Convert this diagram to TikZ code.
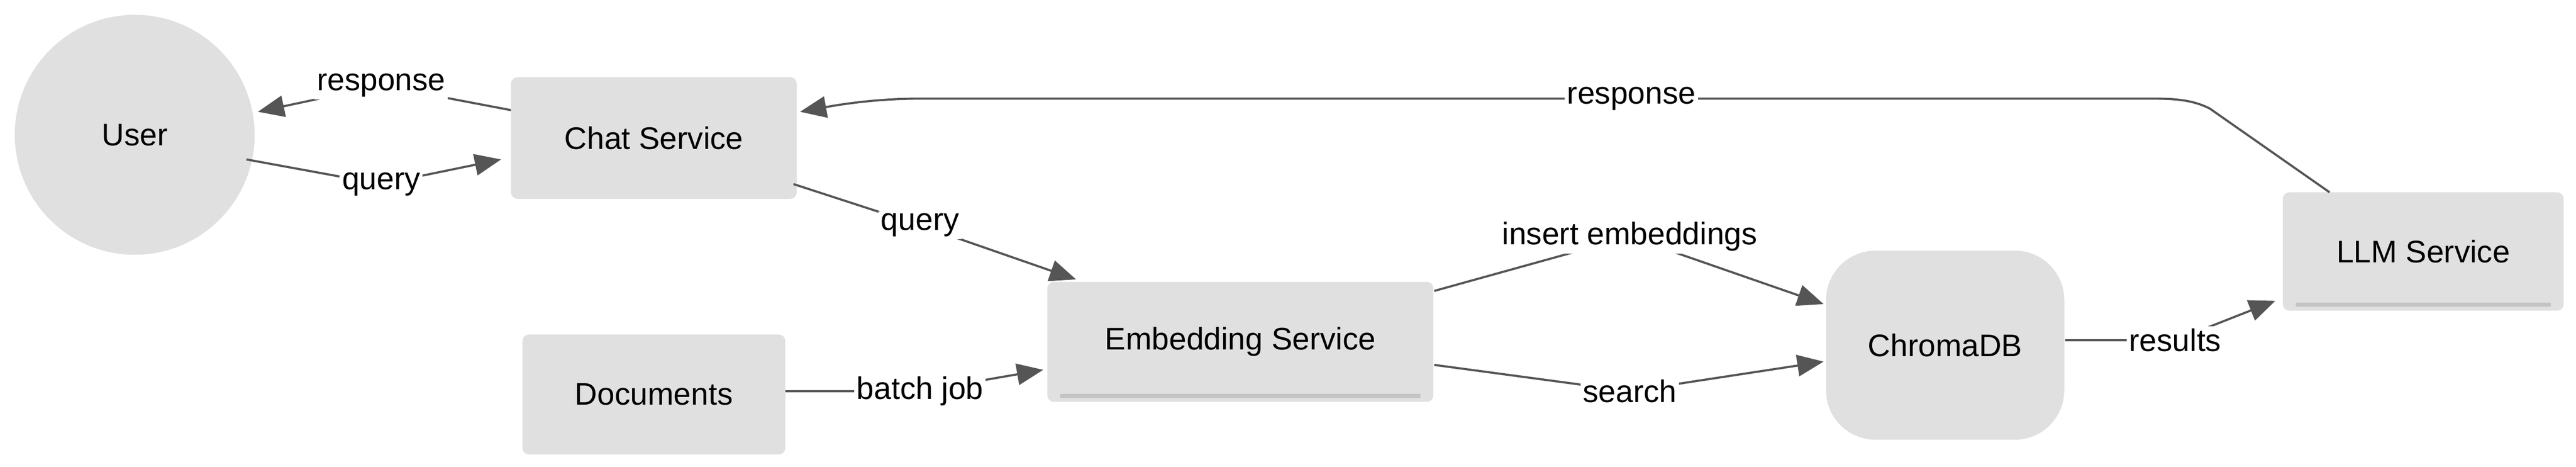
\documentclass[tikz,border=0pt]{standalone}
\usepackage{fontspec}
\setmainfont{Liberation Sans}
\usetikzlibrary{arrows.meta,shapes.geometric}
\definecolor{nodefill}{HTML}{E0E0E0}
\definecolor{edgec}{HTML}{555555}
\definecolor{barc}{HTML}{C4C4C4}
\begin{document}
\begin{tikzpicture}[x=1pt,y=-1pt,
  box/.style={fill=nodefill,draw=none,rounded corners=4pt,font=\fontsize{19}{21}\selectfont,inner sep=0pt},
  line/.style={draw=edgec,line width=1.3pt},
  edge/.style={line,-{Triangle[length=16pt,width=13pt]}},
  lab/.style={fill=white,inner sep=1.5pt,font=\fontsize{19}{21}\selectfont,text=black},
  bar/.style={draw=barc,line width=2.5pt}]
\useasboundingbox (0,0) rectangle (1568,284);
\node[box,circle,minimum size=146pt] (user) at (82,82) {User};
\node[box,minimum width=174pt,minimum height=74pt] (chat) at (398,84) {Chat Service};
\node[box,minimum width=160pt,minimum height=73pt] (docs) at (398,240) {Documents};
\node[box,minimum width=235pt,minimum height=73pt] (emb) at (755,208) {Embedding Service};
\node[box,minimum width=145pt,minimum height=115pt,rounded corners=30pt] (db) at (1184,210) {ChromaDB};
\node[box,minimum width=171pt,minimum height=72pt] (llm) at (1475,153) {LLM Service};
\draw[bar] ([xshift=8pt,yshift=4pt]emb.south west) -- ([xshift=-8pt,yshift=4pt]emb.south east);
\draw[bar] ([xshift=8pt,yshift=4pt]llm.south west) -- ([xshift=-8pt,yshift=4pt]llm.south east);
\coordinate (u1) at (157,68);
\coordinate (u2) at (150,97);
\coordinate (c1) at (311,67);
\coordinate (c2) at (305,97);
\coordinate (c3) at (483,112);
\coordinate (c4) at (487,68);
\coordinate (e1) at (655,170);
\coordinate (e2) at (635,225);
\coordinate (e3) at (873,177);
\coordinate (e4) at (873,222);
\coordinate (d1) at (478,238);
\coordinate (b1) at (1110,185);
\coordinate (b2) at (1110,220);
\coordinate (b3) at (1257,207);
\coordinate (l1) at (1385,183);
\coordinate (l2) at (1418,117);
\node[lab] (lresp) at (232,52) {response};
\node[lab] (lq1) at (232,112) {query};
\node[lab] (lq2) at (560,137) {query};
\node[lab] (lbj) at (560,238) {batch job};
\node[lab] (lie) at (992,144) {insert embeddings};
\node[lab] (lse) at (992,238) {search};
\node[lab] (lrs) at (1324,207) {results};
\draw[edge] (c1) -- (232,52) -- (u1);
\draw[edge] (u2) -- (232,112) -- (c2);
\draw[edge] (c3) -- (560,137) -- (e1);
\draw[edge] (d1) -- (560,238) -- (e2);
\draw[edge] (e3) -- (992,144) -- (b1);
\draw[edge] (e4) -- (992,238) -- (b2);
\draw[edge] (b3) -- (1324,207) -- (l1);
\draw[edge] (l2) -- (1345,66) .. controls (1335,61) and (1325,60) .. (1310,60) -- (560,60) .. controls (540,60) and (520,62) .. (c4);
\foreach \n/\t in {lresp/response,lq1/query,lq2/query,lbj/batch job,lie/insert embeddings,lse/search,lrs/results}
  \node[lab] at (\n) {\t};
\node[lab] (resp2) at (993,60) {response};
\end{tikzpicture}
\end{document}
